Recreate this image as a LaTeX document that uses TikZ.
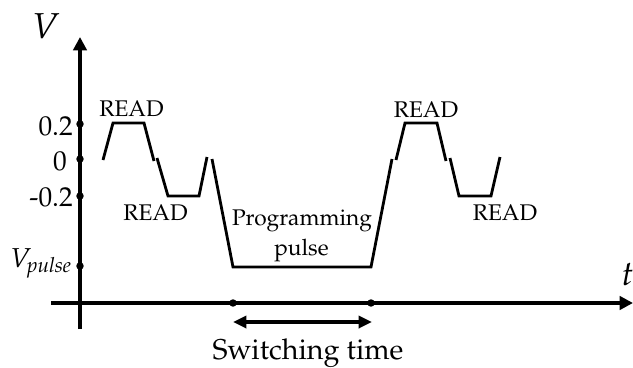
\documentclass[tikz,border=0pt]{standalone}
\usepackage[T1]{fontenc}
\usepackage{mathpazo}
\usetikzlibrary{arrows.meta}
\begin{document}
\begin{tikzpicture}[x=0.75pt,y=-0.75pt,
  axis/.style={line width=3.4pt,-{Triangle[length=10pt,width=10pt]}},
  wave/.style={line width=2.1pt,line join=miter},
  tickdot/.style={circle,fill=black,inner sep=0pt,minimum size=5.6pt},
  lbl/.style={inner sep=0pt,font=\fontsize{17}{20}\selectfont},
  ticklbl/.style={inner sep=0pt,font=\fontsize{20.5}{24}\selectfont},
  span/.style={line width=3pt,{Triangle[length=10pt,width=9pt]}-{Triangle[length=10pt,width=9pt]}}]
\useasboundingbox (0,0) rectangle (633,368);

% axes
\coordinate (yb) at (80,329);
\coordinate (yt) at (80,37);
\coordinate (xl) at (51,303);
\coordinate (xr) at (633,303);
\draw[axis] (yb) -- (yt);
\draw[axis] (xl) -- (xr);
\node[inner sep=0pt,anchor=base,font=\fontsize{27}{30}\selectfont] (vlab) at (46,38) {$V$};
\node[inner sep=0pt,anchor=base east,font=\fontsize{26}{30}\selectfont] (tlab) at (634,285) {$t$};

% ticks on the voltage axis
\node[tickdot] (t1) at (80,124) {};
\node[tickdot] (t2) at (80,159) {};
\node[tickdot] (t3) at (80,196) {};
\node[tickdot] (t4) at (80,266) {};
\node[ticklbl,anchor=base east] (l1) at (73,135) {0.2};
\node[ticklbl,anchor=base east] (l2) at (67,170) {0};
\node[ticklbl,anchor=base east] (l3) at (73,206) {-0.2};
\node[ticklbl,anchor=base east] (l4) at (72,267) {$V_{\mathit{pulse}}$};

% waveform
\draw[wave] (103,160) -- (113,123) -- (144,123) -- (154,161);
\draw[wave] (157,158) -- (168,196) -- (199,196) -- (207,157);
\draw[wave] (212,159) -- (233,267) -- (371,267) -- (392,159);
\draw[wave] (396,160) -- (405,123) -- (437,123) -- (446,161);
\draw[wave] (450,158) -- (459,196) -- (491,196) -- (500,157);

\node[lbl,anchor=base] (r1) at (131.5,116) {READ};
\node[lbl,anchor=base] (r2) at (155.5,220) {READ};
\node[lbl,anchor=base] (r3) at (426,117) {READ};
\node[lbl,anchor=base] (r4) at (505,220) {READ};
\node[lbl,anchor=base] (p1) at (302,225) {Programming};
\node[lbl,anchor=base] (p2) at (301.5,255) {pulse};

% switching time interval
\node[tickdot] (s1) at (233,303) {};
\node[tickdot] (s2) at (371,303) {};
\coordinate (a1) at (233,322);
\coordinate (a2) at (372,322);
\draw[span] (a1) -- (a2);
\node[inner sep=0pt,anchor=base,font=\fontsize{21.5}{25}\selectfont] (sw) at (308,359) {Switching time};
\end{tikzpicture}
\end{document}
